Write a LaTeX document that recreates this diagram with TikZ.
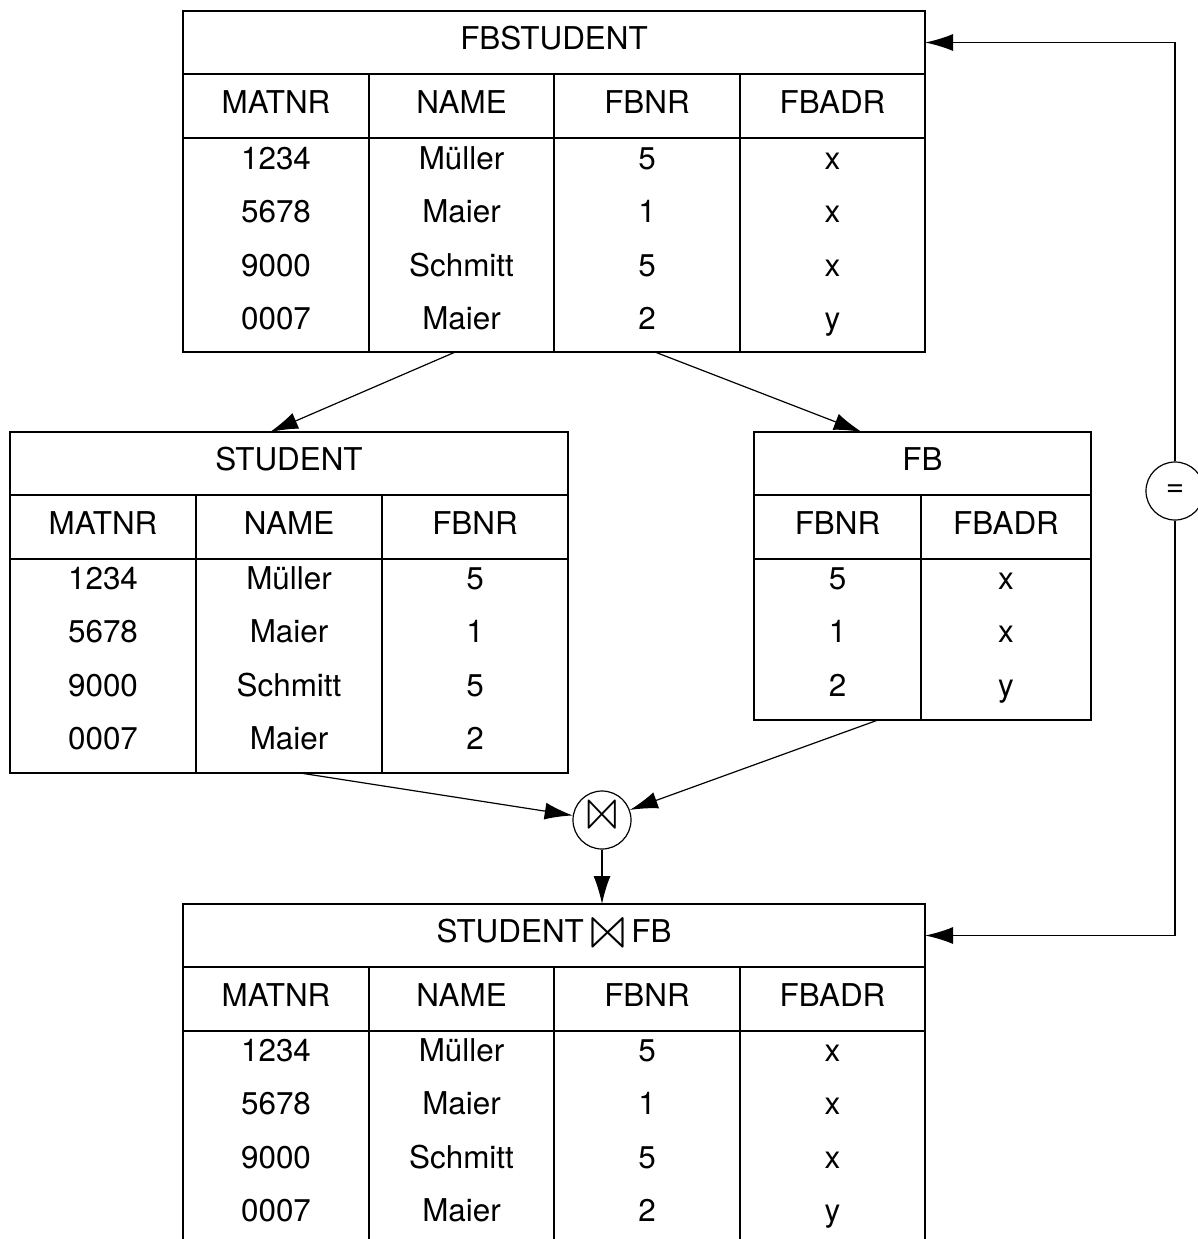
\documentclass[tikz,border=0pt]{standalone}
\usepackage{fontspec}
\setmainfont{TeX Gyre Heros}
\usepackage{latexsym}
\usetikzlibrary{arrows.meta,calc,positioning}
\newcommand{\relFrame}[6]{
    % outer box, title line, header line
    \node[tabframe, minimum width={(#4-#2)*0.5pt},
          minimum height={(#5-#3)*0.5pt}] (#1) at ({(#2+#4)/2}, {(#3+#5)/2}) {};
    \node[tabcell] (#1Title) at ({(#2+#4)/2}, #3+31.5) {#6};
    \draw[tabrule] (#2, #3+63) -- (#4, #3+63);
    \draw[tabrule] (#2, #3+127) -- (#4, #3+127);
}
% the lasy glyph has wide side bearings: stretch it, keep a narrower box
\newcommand{\joinSym}[3]{\makebox[#1]{\resizebox{#2}{#3}{$\Join$}}}

\begin{document}
\begin{tikzpicture}[x=0.5pt, y=-0.5pt]
    \tikzstyle{tabframe}=[rectangle,draw,line width=0.8pt,inner sep=0pt,outer sep=0pt]
    \tikzstyle{tabrule}=[line width=0.8pt]
    \tikzstyle{tabcell}=[inner sep=0pt,text height=0.97em,text depth=0.25em,%
    font=\fontsize{15.7}{19}\selectfont]
    \tikzstyle{relop}=[circle,draw,line width=0.6pt,minimum size=29pt,inner sep=0pt,%
    font=\fontsize{15.7}{19}\selectfont]
    \tikzstyle{conn}=[line width=0.6pt,-{Latex[length=14pt,width=8.5pt]}]
    \tikzstyle{feedback}=[conn,line width=0.75pt]

    \useasboundingbox (0,0) rectangle (1198,1239);

    %% FBSTUDENT
    \relFrame{FBSTUDENT}{183}{11}{925}{352}{FBSTUDENT}
    \foreach \x in {369,554,740} \draw[tabrule] (\x,74) -- (\x,352);
    \foreach \x/\t in {276/MATNR, 461.5/NAME, 647/FBNR, 832.5/FBADR}
        \node[tabcell] (FBS-\t) at (\x,106) {\t};
    \foreach \m/\n/\f/\a [count=\r] in {1234/Müller/5/x, 5678/Maier/1/x,%
            9000/Schmitt/5/x, 0007/Maier/2/y}
    {
        \node[tabcell] (FBS\r-1) at (276, 109+53.3*\r) {\m};
        \node[tabcell] (FBS\r-2) at (461.5, 109+53.3*\r) {\n};
        \node[tabcell] (FBS\r-3) at (647, 109+53.3*\r) {\f};
        \node[tabcell] (FBS\r-4) at (832.5, 109+53.3*\r) {\a};
    }

    %% STUDENT
    \relFrame{STUDENT}{10}{432}{568}{773}{STUDENT}
    \foreach \x in {196,382} \draw[tabrule] (\x,495) -- (\x,773);
    \foreach \x/\t in {103/MATNR, 289/NAME, 475/FBNR}
        \node[tabcell] (STU-\t) at (\x,527) {\t};
    \foreach \m/\n/\f [count=\r] in {1234/Müller/5, 5678/Maier/1,%
            9000/Schmitt/5, 0007/Maier/2}
    {
        \node[tabcell] (STU\r-1) at (103, 529+53.3*\r) {\m};
        \node[tabcell] (STU\r-2) at (289, 529+53.3*\r) {\n};
        \node[tabcell] (STU\r-3) at (475, 529+53.3*\r) {\f};
    }

    %% FB
    \relFrame{FB}{754}{432}{1091}{720}{FB}
    \draw[tabrule] (921,495) -- (921,720);
    \foreach \x/\t in {837.5/FBNR, 1006/FBADR}
        \node[tabcell] (FB-\t) at (\x,527) {\t};
    \foreach \f/\a [count=\r] in {5/x, 1/x, 2/y}
    {
        \node[tabcell] (FB\r-1) at (837.5, 529+53.3*\r) {\f};
        \node[tabcell] (FB\r-2) at (1006, 529+53.3*\r) {\a};
    }

    %% STUDENT join FB
    \relFrame{JOINED}{183}{904}{925}{1245}{STUDENT \raisebox{-4pt}{\joinSym{15pt}{19.5pt}{11.5pt}} FB}
    \foreach \x in {369,554,740} \draw[tabrule] (\x,967) -- (\x,1245);
    \foreach \x/\t in {276/MATNR, 461.5/NAME, 647/FBNR, 832.5/FBADR}
        \node[tabcell] (JN-\t) at (\x,999) {\t};
    \foreach \m/\n/\f/\a [count=\r] in {1234/Müller/5/x, 5678/Maier/1/x,%
            9000/Schmitt/5/x, 0007/Maier/2/y}
    {
        \node[tabcell] (JN\r-1) at (276, 1001+53.3*\r) {\m};
        \node[tabcell] (JN\r-2) at (461.5, 1001+53.3*\r) {\n};
        \node[tabcell] (JN\r-3) at (647, 1001+53.3*\r) {\f};
        \node[tabcell] (JN\r-4) at (832.5, 1001+53.3*\r) {\a};
    }

    %% operators
    \node[relop] (Join) at (602,820) {\joinSym{13.5pt}{17pt}{11pt}};
    \node[relop] (Eq) at (1175,491) {=};

    %% connectors
    \draw[conn] ($(FBSTUDENT.south west)!0.367!(FBSTUDENT.south east)$)
        -- ($(STUDENT.north west)!0.466!(STUDENT.north east)$);
    \draw[conn] ($(FBSTUDENT.south west)!0.636!(FBSTUDENT.south east)$)
        -- ($(FB.north west)!0.32!(FB.north east)$);
    \draw[conn] ($(STUDENT.south west)!0.52!(STUDENT.south east)$) -- (Join);
    \draw[conn] ($(FB.south west)!0.368!(FB.south east)$) -- (Join);
    \draw[conn] (Join) -- (Join |- JOINED.north);
    \draw[feedback] (Eq) |- (FBSTUDENT.east |- FBSTUDENTTitle);
    \draw[feedback] (Eq) |- (JOINED.east |- JOINEDTitle);
\end{tikzpicture}
\end{document}
